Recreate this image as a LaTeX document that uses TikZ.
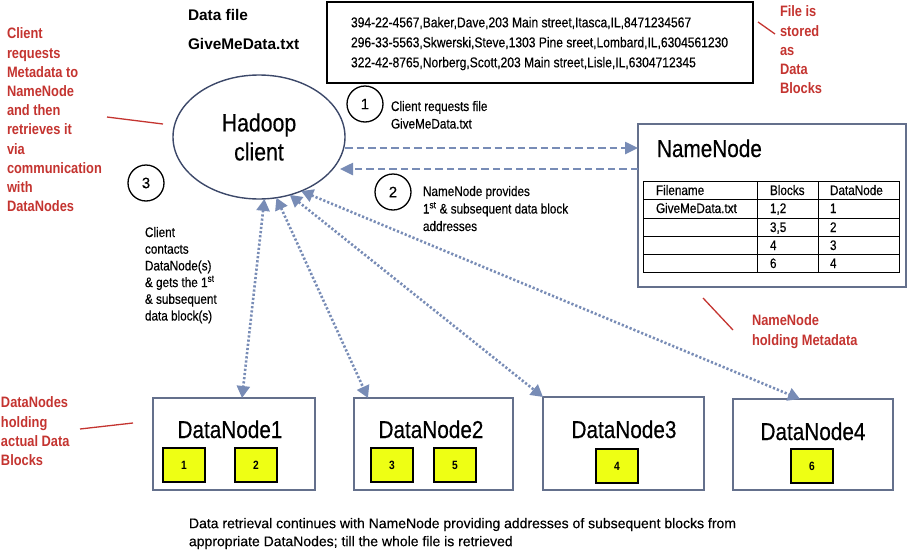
\documentclass[tikz,border=0pt]{standalone}
\usepackage{fontspec}
\setmainfont{Liberation Sans}
\newfontfamily\cn{Liberation Sans}[FakeStretch=0.85, FakeBold=0.4]
\newfontfamily\cnb{Liberation Sans}[FakeStretch=0.85]
\newfontfamily\nrm{Liberation Sans}[FakeBold=0.3]
\usetikzlibrary{shapes.geometric,arrows.meta,calc}
\definecolor{redtxt}{RGB}{196,52,48}
\definecolor{arrowc}{RGB}{120,140,182}
\definecolor{boxc}{RGB}{100,112,140}
\definecolor{ellc}{RGB}{60,72,105}
\definecolor{blky}{RGB}{238,255,20}
\newcommand{\fs}[2]{\fontsize{#1}{#2}\selectfont}
\begin{document}
\begin{tikzpicture}[x=1pt,y=-1pt,
  every node/.style={inner sep=0pt, outer sep=0pt},
  redlbl/.style={text=redtxt, font=\cnb\bfseries\fs{15.1}{19.2}, align=left, anchor=north west},
  smalltxt/.style={font=\cn\fs{13.8}{17.5}, align=left, anchor=north west},
  tabtxt/.style={font=\cn\fs{13.8}{16}, anchor=base west},
  leader/.style={draw=redtxt, line width=1.3pt},
  num/.style={circle, draw=black, line width=1.3pt, minimum size=36pt, font=\nrm\fs{15}{15}},
  dnbox/.style={draw=boxc, line width=1.5pt, anchor=north west},
  dntitle/.style={font=\cn\fs{24.4}{28}, anchor=base},
  blk/.style={draw=black, line width=1.8pt, fill=blky, minimum width=42pt, minimum height=34pt, font=\cnb\bfseries\fs{12}{12}},
  dasharr/.style={draw=arrowc, line width=2.5pt, dash pattern=on 7.5pt off 4pt, -{Triangle[length=13pt,width=12pt]}},
  dotarr/.style={draw=arrowc, line width=2.6pt, dash pattern=on 2.2pt off 2pt, {Triangle[length=12pt,width=13pt]}-{Triangle[length=12pt,width=13pt]}}
]
\useasboundingbox (0,0) rectangle (919,552);

% data file
\node[anchor=north west, font=\bfseries\fs{15.4}{29}, align=left] (dflabel) at (188,9) {Data file\\GiveMeData.txt};
\node[draw=black, line width=1.4pt, minimum width=426pt, minimum height=81pt, anchor=north west] (dfbox) at (327,2) {};
\node[anchor=north west, font=\cn\fs{14.2}{20}, align=left] (dftext) at (351,17) {394-22-4567,Baker,Dave,203 Main street,Itasca,IL,8471234567\\296-33-5563,Skwerski,Steve,1303 Pine sreet,Lombard,IL,6304561230\\322-42-8765,Norberg,Scott,203 Main street,Lisle,IL,6304712345};

% red labels
\node[redlbl] (filelbl) at (780,6) {File is\\stored\\as\\Data\\Blocks};
\node[redlbl] (reqlbl) at (7,28) {Client\\requests\\Metadata to\\NameNode\\and then\\retrieves it\\via\\communication\\with\\DataNodes};
\node[redlbl] (nnlbl) at (752,315) {NameNode\\holding Metadata};
\node[redlbl] (dnlbl) at (1,397) {DataNodes\\holding\\actual Data\\Blocks};
\coordinate (la1) at (758,22); \coordinate (lb1) at (775,34);
\coordinate (la2) at (107,117); \coordinate (lb2) at (163,124);
\coordinate (la3) at (703,298); \coordinate (lb3) at (733,330);
\coordinate (la4) at (80,429); \coordinate (lb4) at (133,423);
\draw[leader] (la1) -- (lb1);
\draw[leader] (la2) -- (lb2);
\draw[leader] (la3) -- (lb3);
\draw[leader] (la4) -- (lb4);

% client
\node[ellipse, draw=ellc, line width=1.4pt, minimum width=172pt, minimum height=124pt, font=\cn\fs{25}{29}, align=center] (client) at (259,137) {Hadoop\\client};

% numbered circles and notes
\node[num] (n1) at (365,104) {1};
\node[num] (n2) at (393,192) {2};
\node[num] (n3) at (146,183) {3};
\node[smalltxt] (t1) at (391,101) {Client requests file\\GiveMeData.txt};
\node[smalltxt] (t2) at (423,186) {NameNode provides\\1\textsuperscript{st} \& subsequent data block\\addresses};
\node[smalltxt, font=\cn\fs{13.8}{16.7}] (t3) at (145,227) {Client\\contacts\\DataNode(s)\\\& gets the 1\textsuperscript{st}\\\& subsequent\\data block(s)};

% NameNode
\node[draw=boxc, line width=1.5pt, minimum width=268pt, minimum height=163pt, anchor=north west] (nn) at (638,124) {};
\node[anchor=base west, font=\cn\fs{24.4}{28}] (nntitle) at (657,157) {NameNode};
\draw[black, line width=1pt] (643,181) rectangle (899,272);
\foreach \yy in {199,218,236,254} \draw[black, line width=1pt] (643,\yy) -- (899,\yy);
\draw[black, line width=1pt] (757,181) -- (757,272) (818,181) -- (818,272);
\node[tabtxt] (h1) at (656,195) {Filename};
\node[tabtxt] (h2) at (770,195) {Blocks};
\node[tabtxt] (h3) at (830,195) {DataNode};
\node[tabtxt] (r1a) at (656,213) {GiveMeData.txt};
\node[tabtxt] (r1b) at (770,213) {1,2};
\node[tabtxt] (r1c) at (830,213) {1};
\node[tabtxt] (r2b) at (770,232) {3,5};
\node[tabtxt] (r2c) at (830,232) {2};
\node[tabtxt] (r3b) at (770,250) {4};
\node[tabtxt] (r3c) at (830,250) {3};
\node[tabtxt] (r4b) at (770,268) {6};
\node[tabtxt] (r4c) at (830,268) {4};

% DataNodes
\node[dnbox, minimum width=162pt, minimum height=92pt] (dn1) at (153,398) {};
\node[dnbox, minimum width=159pt, minimum height=92pt] (dn2) at (354,398) {};
\node[dnbox, minimum width=161pt, minimum height=93pt] (dn3) at (543,397) {};
\node[dnbox, minimum width=160pt, minimum height=91pt] (dn4) at (733,399) {};
\node[dntitle] (dt1) at (230,438) {DataNode1};
\node[dntitle] (dt2) at (431,438) {DataNode2};
\node[dntitle] (dt3) at (624,438) {DataNode3};
\node[dntitle] (dt4) at (813,440) {DataNode4};
\node[blk] (b1) at (184,465) {1};
\node[blk] (b2) at (256,465) {2};
\node[blk] (b3) at (392,465) {3};
\node[blk] (b5) at (455,465) {5};
\node[blk] (b4) at (617,466) {4};
\node[blk] (b6) at (812,466) {6};

% bottom text
\node[anchor=north west, font=\nrm\fs{14}{18}, align=left] (bottom) at (189,518) {Data retrieval continues with NameNode providing addresses of subsequent blocks from\\appropriate DataNodes; till the whole file is retrieved};

% arrows
\coordinate (c1) at ([yshift=-11pt]client.east);
\coordinate (c2) at ([yshift=-32pt,xshift=-5pt]client.east);
\draw[dasharr] (c1) -- (c1 -| nn.west);
\draw[dasharr] (c2 -| nn.west) -- (c2);
\draw[dotarr] (client.-85) -- ([xshift=8pt]dn1.north);
\draw[dotarr] (client.-74) -- ([xshift=14pt]dn2.north west);
\draw[dotarr] (client.-62) -- (dn3.north west);
\draw[dotarr] (client.-52) -- ([xshift=-13pt]dn4.north);
\end{tikzpicture}
\end{document}
